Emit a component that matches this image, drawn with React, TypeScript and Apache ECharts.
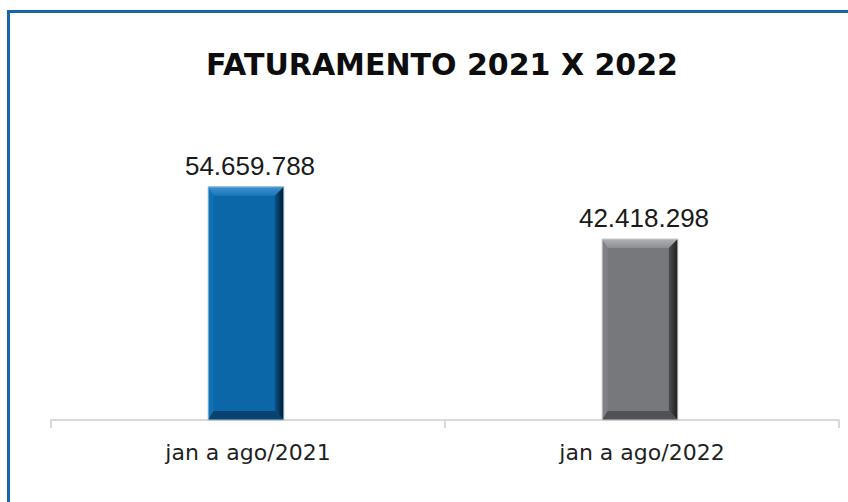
import React, { useEffect, useRef } from "react";
import * as echarts from "echarts";

const titleText = "FATURAMENTO 2021 X 2022";
const categories = ["jan a ago/2021", "jan a ago/2022"];
const values = [54659788, 42418298];

const palettes = [
  {
    main: "#0c67a9",
    topA: "#3d93d3",
    topB: "#1a76ba",
    left: "#1270b4",
    rightA: "#0a5389",
    rightB: "#02192b",
    bottom: "#0a436f",
    stroke: "#9dbfd9",
  },
  {
    main: "#77787c",
    topA: "#b0b1b4",
    topB: "#8d8e91",
    left: "#818286",
    rightA: "#4e4f52",
    rightB: "#1c1d1f",
    bottom: "#505154",
    stroke: "#c8c8c8",
  },
];

function fmt(n: number): string {
  return String(Math.round(n)).replace(/\B(?=(\d{3})+(?!\d))/g, ".");
}

export default function App() {
  const ref = useRef<HTMLDivElement>(null);

  useEffect(() => {
    if (!ref.current) return;
    const chart = echarts.init(ref.current, undefined, { renderer: "svg" });

    const option: any = {
      animation: false,
      backgroundColor: "#ffffff",
      grid: { left: 51, right: 9, top: 164, bottom: 82 },
      graphic: [
        {
          type: "rect",
          shape: { x: 8.5, y: 11.5, width: 900, height: 600 },
          style: { fill: "none", stroke: "#1766a9", lineWidth: 3 },
          silent: true,
        },
        {
          type: "text",
          x: 442,
          y: 64,
          style: {
            text: titleText,
            fill: "#0d0d0d",
            font: 'bold 30px "DejaVu Sans"',
            textAlign: "center",
            textVerticalAlign: "middle",
          },
        },
      ],
      xAxis: {
        type: "category",
        data: categories,
        axisLine: { show: true, lineStyle: { color: "#d9d9d9", width: 2 } },
        axisTick: { show: true, length: 8, lineStyle: { color: "#d9d9d9", width: 2 } },
        axisLabel: {
          margin: 21,
          fontSize: 22,
          color: "#1f1f1f",
          fontFamily: "DejaVu Sans",
        },
      },
      yAxis: {
        type: "value",
        show: false,
        min: 0,
        max: 60000000,
        splitLine: { show: false },
      },
      series: [
        {
          type: "custom",
          data: categories.map((c, i) => [i, values[i]]),
          renderItem: (params: any, api: any) => {
            const idx = api.value(0);
            const val = api.value(1);
            const top = api.coord([idx, val]);
            const base = api.coord([idx, 0]);
            const bw = api.size([1, 0])[0] * 0.192;
            const cx = top[0] - 2;
            const x0 = cx - bw / 2;
            const x1 = cx + bw / 2;
            const y0 = top[1];
            const y1 = base[1];
            const b = 9;
            const p = palettes[params.dataIndex % palettes.length];
            return {
              type: "group",
              children: [
                {
                  type: "rect",
                  shape: { x: x0, y: y0, width: x1 - x0, height: y1 - y0 },
                  style: { fill: p.main },
                },
                {
                  type: "polygon",
                  shape: { points: [[x0, y0], [x0 + b * 0.6, y0 + b], [x0 + b * 0.6, y1 - b], [x0, y1]] },
                  style: { fill: p.left },
                },
                {
                  type: "polygon",
                  shape: { points: [[x0, y0], [x1, y0], [x1 - b, y0 + b], [x0 + b * 0.6, y0 + b]] },
                  style: {
                    fill: new echarts.graphic.LinearGradient(0, 0, 0, 1, [
                      { offset: 0, color: p.topA },
                      { offset: 1, color: p.topB },
                    ]),
                  },
                },
                {
                  type: "polygon",
                  shape: { points: [[x1, y0], [x1, y1], [x1 - b, y1 - b], [x1 - b, y0 + b]] },
                  style: {
                    fill: new echarts.graphic.LinearGradient(0, 0, 1, 0, [
                      { offset: 0, color: p.rightA },
                      { offset: 1, color: p.rightB },
                    ]),
                  },
                },
                {
                  type: "polygon",
                  shape: { points: [[x0, y1], [x1, y1], [x1 - b, y1 - b], [x0 + b * 0.6, y1 - b]] },
                  style: { fill: p.bottom },
                },
                {
                  type: "rect",
                  shape: { x: x0, y: y0, width: x1 - x0, height: y1 - y0 },
                  style: { fill: "none", stroke: p.stroke, lineWidth: 1 },
                },
                {
                  type: "text",
                  x: cx + 4,
                  y: y0 - 8,
                  style: {
                    text: fmt(val),
                    fill: "#1a1a1a",
                    font: '26px "Liberation Sans"',
                    textAlign: "center",
                    textVerticalAlign: "bottom",
                  },
                },
              ],
            };
          },
        },
      ],
    };

    chart.setOption(option);
    return () => {
      chart.dispose();
    };
  }, []);

  return (
    <div
      ref={ref}
      style={{ position: "absolute", left: 0, top: 0, width: 848, height: 502 }}
    />
  );
}
